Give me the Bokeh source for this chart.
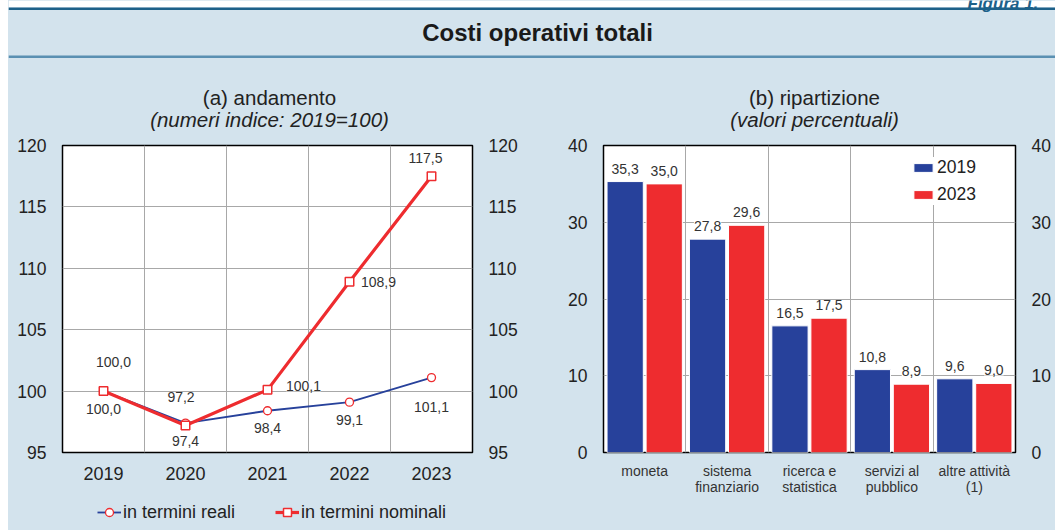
from bokeh.plotting import figure
from bokeh.models import (ColumnDataSource, Range1d, LinearAxis, Label, LabelSet,
                          Legend, LegendItem, FixedTicker, Span, BoxAnnotation, Spacer)
from bokeh.layouts import column, row
from bokeh.transform import dodge
from bokeh.embed import file_html
from bokeh.resources import INLINE
from bokeh.core.properties import value

# ---------------- data ----------------
years = ["2019", "2020", "2021", "2022", "2023"]
reali = [100.0, 97.4, 98.4, 99.1, 101.1]
nominali = [100.0, 97.2, 100.1, 108.9, 117.5]
y_ticks_a = [95, 100, 105, 110, 115, 120]

categorie = ["moneta", "sistema\nfinanziario", "ricerca e\nstatistica",
             "servizi al\npubblico", "altre attività\n(1)"]
quota_2019 = [35.3, 27.8, 16.5, 10.8, 9.6]
quota_2023 = [35.0, 29.6, 17.5, 8.9, 9.0]
y_ticks_b = [0, 10, 20, 30, 40]


def fmt(v):
    return f"{v:.1f}".replace(".", ",")


# ---------------- styles ----------------
PANEL = "#d3e3ed"
FONT = "Liberation Sans"
BLUE = "#27419b"
RED = "#ee2c2f"
GRID = "#a8a8a8"
TXT = "#222222"
LBL = "#333333"
TEAL = "#1d6189"
NAN = float("nan")
LM = 8  # white strip on the left

# label offsets (pixels, up positive)
reali_dx = [0, 0, 0, 0, 0]
reali_dy = [-17.5, -18, -17, -18, -29.5]
nom_dx = [10, -4.5, 36, 29, -6]
nom_dy = [29.5, 28.5, 3.5, 0, 18.5]


def style_axis(ax, size):
    ax.axis_line_color = None
    ax.major_tick_line_color = None
    ax.minor_tick_line_color = None
    ax.major_tick_out = 0
    ax.major_tick_in = 0
    ax.major_label_text_font = FONT
    ax.major_label_text_font_size = size
    ax.major_label_text_color = TXT
    ax.major_label_standoff = 16


def bare(fig):
    fig.grid.visible = False
    fig.outline_line_color = None
    fig.background_fill_color = PANEL
    fig.border_fill_color = PANEL


# ---------------- header (title + subtitles), pixel-mapped ----------------
HW, HH = 1055, 133
hdr = figure(width=HW - LM, height=HH, x_range=Range1d(LM, HW), y_range=Range1d(0, HH),
             toolbar_location=None, output_backend="svg", min_border=0,
             x_axis_location=None, y_axis_location=None)
bare(hdr)
hdr.add_layout(BoxAnnotation(bottom=HH - 7, top=HH, fill_color="white", fill_alpha=1,
                             line_color=None))
hdr.add_layout(Span(location=HH - 8.2, dimension="width", line_color=TEAL, line_width=2.4))
hdr.add_layout(Span(location=HH - 56.2, dimension="width", line_color="#5a90b2", line_width=2.4))
hdr.add_layout(Label(x=967, y=HH - 3, text="Figura 1.", text_font=FONT,
                     text_font_style="bold italic", text_font_size="17px",
                     text_color=TEAL, text_align="left", text_baseline="alphabetic"))
hdr.add_layout(Label(x=537, y=HH - 31.5, text="Costi operativi totali",
                     text_font=FONT, text_font_style="bold", text_font_size="24px",
                     text_color="#1a1a1a", text_align="center", text_baseline="middle"))
for cx, t1, t2 in ((269, "(a) andamento", "(numeri indice: 2019=100)"),
                   (814, "(b) ripartizione", "(valori percentuali)")):
    hdr.add_layout(Label(x=cx, y=HH - 96.5, text=t1, text_font=FONT,
                         text_font_size="20.5px", text_color=TXT,
                         text_align="center", text_baseline="middle"))
    hdr.add_layout(Label(x=cx, y=HH - 118.5, text=t2, text_font=FONT,
                         text_font_size="20.5px", text_font_style="italic", text_color=TXT,
                         text_align="center", text_baseline="middle"))

# ---------------- (a) andamento ----------------
pa = figure(x_range=years, y_range=Range1d(95, 120), frame_width=410, frame_height=307,
            min_border_left=62 - LM, min_border_right=68, min_border_top=12,
            min_border_bottom=45, toolbar_location=None, output_backend="svg")
pa.background_fill_color = "white"
pa.border_fill_color = PANEL
pa.outline_line_color = "black"
pa.outline_line_width = 1.5
pa.yaxis.ticker = FixedTicker(ticks=y_ticks_a)
style_axis(pa.yaxis[0], "17.5px")
style_axis(pa.xaxis[0], "18px")
pa.xaxis.major_label_standoff = 14
ra = LinearAxis(ticker=FixedTicker(ticks=y_ticks_a))
style_axis(ra, "17.5px")
pa.add_layout(ra, "right")
pa.xgrid.ticker = FixedTicker(ticks=[1, 2, 3, 4])
pa.grid.grid_line_color = GRID
pa.grid.grid_line_width = 1

src_a = ColumnDataSource(dict(
    x=years, reali=reali, nominali=nominali,
    t_reali=[fmt(v) for v in reali], t_nom=[fmt(v) for v in nominali],
    rdx=reali_dx, rdy=reali_dy, ndx=nom_dx, ndy=nom_dy))

REAL_LINE = dict(line_color=BLUE, line_width=1.8)
NOM_LINE = dict(line_color=RED, line_width=3.2)
REAL_MK = dict(marker="circle", size=8, fill_color="white", line_color=RED, line_width=1.3)
NOM_MK = dict(marker="square", size=8.5, fill_color="white", line_color=RED, line_width=1.5)

pa.line("x", "reali", source=src_a, **REAL_LINE)
pa.line("x", "nominali", source=src_a, **NOM_LINE)
pa.scatter("x", "reali", source=src_a, **REAL_MK)
pa.scatter("x", "nominali", source=src_a, **NOM_MK)

for col, yname, dx, dy in (("t_reali", "reali", "rdx", "rdy"),
                           ("t_nom", "nominali", "ndx", "ndy")):
    pa.add_layout(LabelSet(x="x", y=yname, text=col, source=src_a,
                           x_offset=dx, y_offset=dy,
                           text_font=value(FONT), text_font_size="14px", text_color=LBL,
                           text_align="center", text_baseline="middle",
                           background_fill_color="white"))

# ---------------- (b) ripartizione ----------------
pb = figure(x_range=categorie, y_range=Range1d(0, 40), frame_width=412, frame_height=307,
            min_border_left=63, min_border_right=40, min_border_top=12, min_border_bottom=45,
            toolbar_location=None, output_backend="svg")
pb.background_fill_color = "white"
pb.border_fill_color = PANEL
pb.outline_line_color = "black"
pb.outline_line_width = 1.5
pb.yaxis.ticker = FixedTicker(ticks=y_ticks_b)
style_axis(pb.yaxis[0], "17.5px")
style_axis(pb.xaxis[0], "14px")
pb.xaxis.major_label_standoff = 10
pb.xaxis.major_label_text_color = LBL
pb.xaxis.major_label_text_line_height = 1.0
rb = LinearAxis(ticker=FixedTicker(ticks=y_ticks_b))
style_axis(rb, "17.5px")
pb.add_layout(rb, "right")
pb.xgrid.ticker = FixedTicker(ticks=[1, 2, 3, 4])
pb.grid.grid_line_color = GRID
pb.grid.grid_line_width = 1

src_b = ColumnDataSource(dict(cat=categorie, q19=quota_2019, q23=quota_2023,
                              t19=[fmt(v) for v in quota_2019],
                              t23=[fmt(v) for v in quota_2023]))
OFF = 0.237
b19 = pb.vbar(x=dodge("cat", -OFF, range=pb.x_range), top="q19", width=0.44, bottom=0,
              source=src_b, fill_color=BLUE, line_color="white", line_width=1)
b23 = pb.vbar(x=dodge("cat", OFF, range=pb.x_range), top="q23", width=0.44, bottom=0,
              source=src_b, fill_color=RED, line_color="white", line_width=1)
for off, col, t in ((-OFF, "q19", "t19"), (OFF, "q23", "t23")):
    pb.add_layout(LabelSet(x=dodge("cat", off, range=pb.x_range), y=col, text=t, source=src_b,
                           y_offset=13, text_font=value(FONT), text_font_size="14px",
                           text_color=LBL, text_align="center", text_baseline="middle",
                           background_fill_color="white"))

leg_b = Legend(items=[LegendItem(label="2019", renderers=[b19]),
                      LegendItem(label="2023", renderers=[b23])],
               location=(308, 247), padding=4, margin=0, spacing=6, label_standoff=2,
               glyph_width=24, glyph_height=11, label_height=20,
               background_fill_color="white", background_fill_alpha=1, border_line_color=None,
               label_text_font=FONT, label_text_font_size="17.5px", label_text_color=TXT)
pb.add_layout(leg_b, "center")

# ---------------- footer with legend of (a) ----------------
FH = 33
ft = figure(width=HW - LM, height=FH, x_range=Range1d(LM, HW), y_range=Range1d(0, FH),
            toolbar_location=None, output_backend="svg", min_border=0,
            x_axis_location=None, y_axis_location=None)
bare(ft)
k_rl = ft.line(x=[NAN], y=[NAN], **REAL_LINE)
k_rm = ft.scatter(x=[NAN], y=[NAN], **REAL_MK)
k_nl = ft.line(x=[NAN], y=[NAN], **NOM_LINE)
k_nm = ft.scatter(x=[NAN], y=[NAN], **NOM_MK)
leg_a = Legend(items=[LegendItem(label="in termini reali", renderers=[k_rl, k_rm]),
                      LegendItem(label="in termini nominali", renderers=[k_nl, k_nm])],
               orientation="horizontal", location=(97 - LM, 7.3),
               padding=0, margin=0, spacing=40, label_standoff=2,
               glyph_width=24, glyph_height=20, label_height=20,
               background_fill_alpha=0, border_line_color=None,
               label_text_font=FONT, label_text_font_size="18px", label_text_color=TXT)
ft.add_layout(leg_a, "center")

body = column(hdr, row(pa, pb, styles={"background-color": PANEL}), ft,
              styles={"background-color": PANEL})
layout = row(Spacer(width=LM, height=HH + 364 + FH, styles={"background-color": "white"}),
             body)
open("out.html", "w").write(file_html(layout, INLINE))
